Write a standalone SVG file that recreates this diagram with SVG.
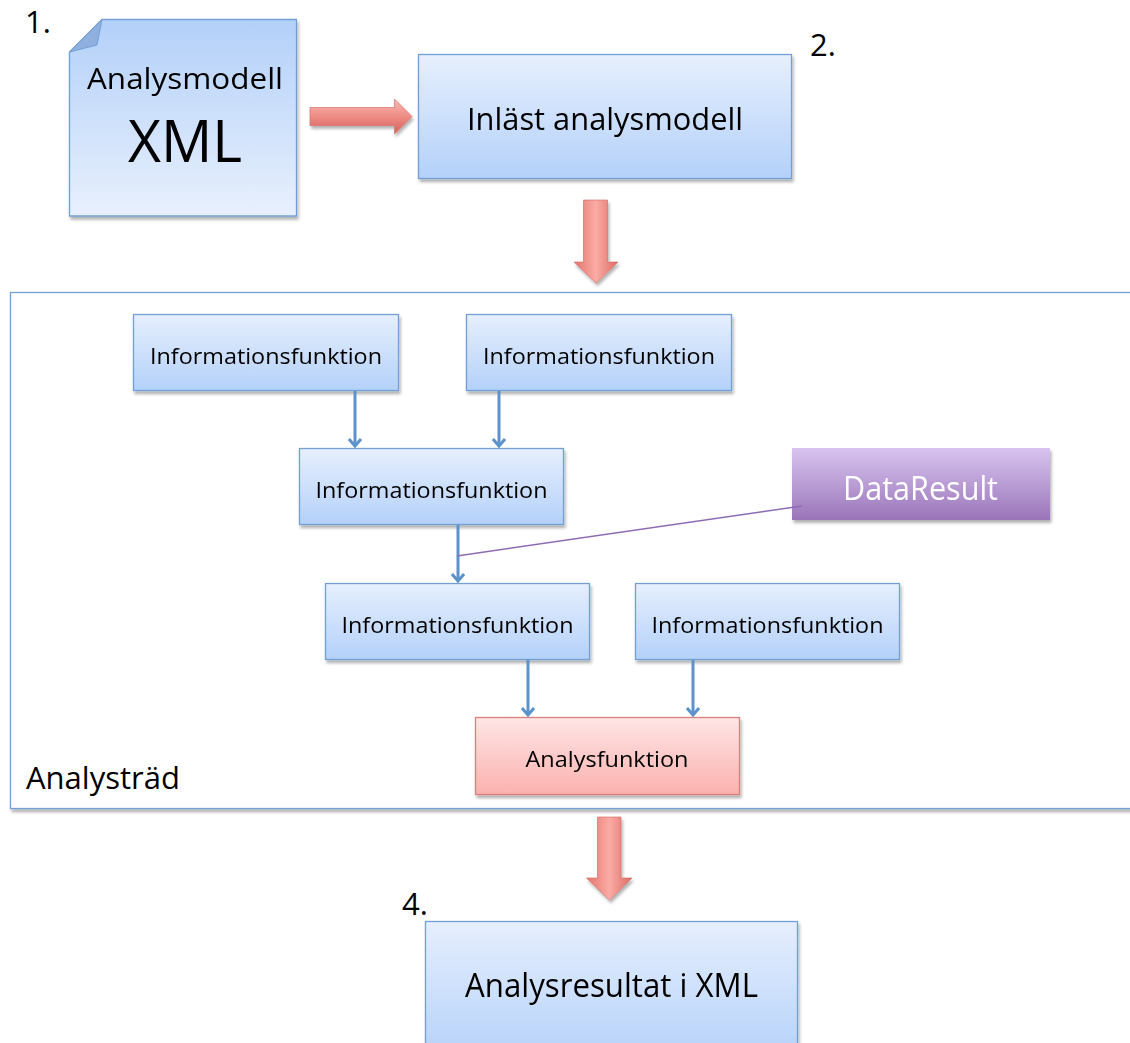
<svg xmlns="http://www.w3.org/2000/svg" width="1130" height="1043" viewBox="0 0 1130 1043">
  <style>
    text { font-family: "Open Sans", "Noto Sans", "Liberation Sans", sans-serif; fill: #000; }
    .box { stroke: #73a0d4; stroke-width: 1.3; }
    .lbl { text-anchor: middle; }
    .if { font-size: 22px; }
    .conn { stroke: #5b93ca; stroke-width: 3; fill: none; }
    .big { stroke: #d56660; stroke-width: 0.6; }
  </style>
  <defs>
    <linearGradient id="gBlue" x1="0" y1="0" x2="0" y2="1">
      <stop offset="0" stop-color="#e6effd"/>
      <stop offset="1" stop-color="#b4d1fa"/>
    </linearGradient>
    <linearGradient id="gBlueUp" x1="0" y1="0" x2="0" y2="1">
      <stop offset="0" stop-color="#b3d0f9"/>
      <stop offset="1" stop-color="#e8f0fd"/>
    </linearGradient>
    <linearGradient id="gPink" x1="0" y1="0" x2="0" y2="1">
      <stop offset="0" stop-color="#fee6e6"/>
      <stop offset="1" stop-color="#fbb1ae"/>
    </linearGradient>
    <linearGradient id="gPurple" x1="0" y1="0" x2="0" y2="1">
      <stop offset="0" stop-color="#d8c4ef"/>
      <stop offset="1" stop-color="#9a75b9"/>
    </linearGradient>
    <linearGradient id="gRedH" x1="0" y1="0" x2="0" y2="1">
      <stop offset="0" stop-color="#f8bab4"/>
      <stop offset="0.45" stop-color="#f09089"/>
      <stop offset="1" stop-color="#d6615b"/>
    </linearGradient>
    <linearGradient id="gRedV" x1="0" y1="0" x2="1" y2="0">
      <stop offset="0" stop-color="#e2746d"/>
      <stop offset="0.5" stop-color="#fbaba5"/>
      <stop offset="1" stop-color="#dd6c65"/>
    </linearGradient>
    <filter id="shadow" x="-10%" y="-10%" width="130%" height="140%">
      <feDropShadow dx="1.5" dy="3" stdDeviation="1.8" flood-color="#000" flood-opacity="0.3"/>
    </filter>
    <!-- open chevron head, drawn pointing along +x -->
    <marker id="head" markerWidth="14" markerHeight="14" refX="12" refY="7" orient="auto" markerUnits="userSpaceOnUse" viewBox="0 0 14 14">
      <polyline points="5,1 12,7 5,13" fill="none" stroke="#5b93ca" stroke-width="3"/>
    </marker>
  </defs>

  <!-- step numbers -->
  <text x="25" y="33" font-size="31">1.</text>
  <text x="810" y="56" font-size="31">2.</text>
  <text x="22" y="343" font-size="31">3.</text>
  <text x="402" y="915" font-size="31">4.</text>

  <!-- analysis tree container -->
  <g id="analystrad">
    <rect x="10.5" y="292.5" width="1130" height="516" fill="#fff" stroke="#73a0d4" stroke-width="1.3" filter="url(#shadow)"/>
    <text x="26" y="789" font-size="31">Analysträd</text>
  </g>

  <!-- input document -->
  <g id="analysmodell-xml" filter="url(#shadow)">
    <path d="M102,19.5 H296.5 V216 H69.5 V52 Z" fill="url(#gBlueUp)" class="box"/>
    <path d="M102,19.5 L97,45 L69.5,52 Z" fill="#8fb0de" stroke="#73a0d4" stroke-width="1"/>
    <text class="lbl" x="185" y="89" font-size="30" textLength="196" lengthAdjust="spacingAndGlyphs">Analysmodell</text>
    <text class="lbl" x="185" y="162" font-size="58" textLength="114" lengthAdjust="spacingAndGlyphs">XML</text>
  </g>

  <g id="inlast-analysmodell" filter="url(#shadow)">
    <rect x="418.5" y="54.5" width="373" height="124" fill="url(#gBlue)" class="box"/>
    <text class="lbl" x="605" y="130" font-size="31" textLength="276" lengthAdjust="spacingAndGlyphs">Inläst analysmodell</text>
  </g>

  <g id="info1" filter="url(#shadow)">
    <rect x="133.5" y="314.5" width="265" height="76" fill="url(#gBlue)" class="box"/>
    <text class="lbl if" x="266" y="364" textLength="232" lengthAdjust="spacingAndGlyphs">Informationsfunktion</text>
  </g>
  <g id="info2" filter="url(#shadow)">
    <rect x="466.5" y="314.5" width="265" height="76" fill="url(#gBlue)" class="box"/>
    <text class="lbl if" x="599" y="364" textLength="232" lengthAdjust="spacingAndGlyphs">Informationsfunktion</text>
  </g>
  <g id="info3" filter="url(#shadow)">
    <rect x="299.5" y="448.5" width="264" height="76" fill="url(#gBlue)" class="box"/>
    <text class="lbl if" x="431.5" y="498" textLength="232" lengthAdjust="spacingAndGlyphs">Informationsfunktion</text>
  </g>
  <g id="dataresult" filter="url(#shadow)">
    <rect x="792" y="448" width="258" height="72" fill="url(#gPurple)"/>
    <text class="lbl" x="920.5" y="500" font-size="33" style="fill:#fff" textLength="155" lengthAdjust="spacingAndGlyphs">DataResult</text>
  </g>
  <g id="info4" filter="url(#shadow)">
    <rect x="325.5" y="583.5" width="264" height="76" fill="url(#gBlue)" class="box"/>
    <text class="lbl if" x="457.5" y="633" textLength="232" lengthAdjust="spacingAndGlyphs">Informationsfunktion</text>
  </g>
  <g id="info5" filter="url(#shadow)">
    <rect x="635.5" y="583.5" width="264" height="76" fill="url(#gBlue)" class="box"/>
    <text class="lbl if" x="767.5" y="633" textLength="232" lengthAdjust="spacingAndGlyphs">Informationsfunktion</text>
  </g>
  <g id="analysfunktion" filter="url(#shadow)">
    <rect x="475.5" y="717.5" width="264" height="77" fill="url(#gPink)" stroke="#d9807c" stroke-width="1.3"/>
    <text class="lbl if" x="607" y="767" textLength="163" lengthAdjust="spacingAndGlyphs">Analysfunktion</text>
  </g>

  <g id="analysresultat" filter="url(#shadow)">
    <rect x="425.5" y="921.5" width="372" height="140" fill="url(#gBlue)" class="box"/>
    <text class="lbl" x="611.5" y="997" font-size="32" textLength="293" lengthAdjust="spacingAndGlyphs">Analysresultat i XML</text>
  </g>

  <!-- connectors -->
  <g id="connectors">
    <!-- block arrows between stages -->
    <g filter="url(#shadow)">
      <path class="big" d="M310,107.5 H394.5 V99 L412,116.5 L394.5,134 V125.5 H310 Z" fill="url(#gRedH)"/>
      <path class="big" d="M583.5,200 H607.5 V262 H618 L596,283 L574,262 H583.5 Z" fill="url(#gRedV)"/>
      <path class="big" d="M597.5,817 H621 V878 H632 L609.5,900 L586.5,878 H597.5 Z" fill="url(#gRedV)"/>
    </g>
    <!-- data flow inside the tree -->
    <line class="conn" x1="355" y1="391" x2="355" y2="446" marker-end="url(#head)"/>
    <line class="conn" x1="499" y1="391" x2="499" y2="446" marker-end="url(#head)"/>
    <line class="conn" x1="458" y1="525" x2="458" y2="581" marker-end="url(#head)"/>
    <line class="conn" x1="528" y1="660" x2="528" y2="715" marker-end="url(#head)"/>
    <line class="conn" x1="693" y1="660" x2="693" y2="715" marker-end="url(#head)"/>
    <!-- DataResult link -->
    <line x1="457" y1="556" x2="802" y2="506" stroke="#8e6bb5" stroke-width="1.5"/>
  </g>
</svg>
